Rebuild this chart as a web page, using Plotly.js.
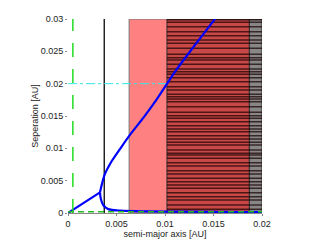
<!DOCTYPE html>
<html>
<head>
<meta charset="utf-8">
<script src="https://cdn.plot.ly/plotly-3.0.1.min.js"></script>
<style>
  html, body { margin: 0; padding: 0; background: #fff; }
  #chart { width: 321px; height: 241px; }
</style>
</head>
<body>
<div id="chart"></div>
<script>
/* data */
// blue curve: straight part from the origin, then two branches out of the kink
const line_x = [0, 0.0033];
const line_y = [0, 0.0032];
const upper_x = [0.0033, 0.0035, 0.0038, 0.0045, 0.0055, 0.0065, 0.0078, 0.0092, 0.0112, 0.0130, 0.0152];
const upper_y = [0.0032, 0.0045, 0.0060, 0.0080, 0.0102, 0.0123, 0.0148, 0.0177, 0.0222, 0.0258, 0.0301];
const lower_x = [0.0033, 0.00337, 0.00364, 0.00416, 0.0054, 0.008, 0.012, 0.02];
const lower_y = [0.0032, 0.0023, 0.0012, 0.0006, 0.00036, 0.00025, 0.0002, 0.00015];

// limits
const black_x = 0.00374;
const green_x = 0.0005;
const green_y = 0.0002;
const cyan_y = 0.02;
const cyan_end = 0.0102;

// shaded bands
const pink_band = [0.0063, 0.0187];
const dark_band = [0.0102, 0.0187];
const grey_band = [0.0187, 0.02];

// horizontal dark stripes over the shaded bands
const stripe_y = [0.0299, 0.02948, 0.02880, 0.02803, 0.02741, 0.02675, 0.02624, 0.02546, 0.02454, 0.02401,
  0.02365, 0.02299, 0.02226, 0.02185, 0.02144, 0.02092, 0.02030, 0.01953, 0.01902, 0.01835,
  0.01798, 0.01763, 0.01721, 0.01643, 0.01557, 0.01504, 0.01464, 0.01412, 0.01350, 0.01299,
  0.01257, 0.01195, 0.01144, 0.01093, 0.01051, 0.00974, 0.00923, 0.00897, 0.00846, 0.00778,
  0.00727, 0.00654, 0.00603, 0.00536, 0.00484, 0.00433, 0.00382, 0.00314, 0.00252, 0.00201,
  0.00124, 0.00057];

const x_ticks = [0, 0.005, 0.01, 0.015, 0.02];
const y_ticks = [0, 0.005, 0.01, 0.015, 0.02, 0.025, 0.03];

/* build */
const stripes_x = [], stripes_y = [];
for (const y of stripe_y) {
  stripes_x.push(dark_band[0], grey_band[1], null);
  stripes_y.push(y, y, null);
}

const band = (x0, x1, fill, edge) => ({
  type: 'rect', xref: 'x', yref: 'y', layer: 'below',
  x0: x0, x1: x1, y0: 0, y1: 0.03,
  fillcolor: fill, line: {color: edge, width: 1},
});

const blue = {color: '#0000ff', width: 2.2, shape: 'spline', smoothing: 0.8};

const traces = [
  {x: stripes_x, y: stripes_y, mode: 'lines', line: {color: 'rgba(25,0,0,0.7)', width: 1.5}},
  {x: [black_x, black_x], y: [0, 0.03], mode: 'lines', line: {color: '#222', width: 1.5}},
  {x: [0, cyan_end], y: [cyan_y, cyan_y], mode: 'lines', line: {color: '#33e6e6', width: 1, dash: 'dashdot'}},
  {x: line_x, y: line_y, mode: 'lines', line: {color: '#0000ff', width: 2.2}},
  {x: upper_x, y: upper_y, mode: 'lines', line: blue},
  {x: lower_x, y: lower_y, mode: 'lines', line: blue},
  {x: [green_x, green_x], y: [0, 0.03], mode: 'lines', line: {color: '#22dd22', width: 1.5, dash: '14px,12px'}},
  {x: [0, 0.02], y: [green_y, green_y], mode: 'lines', line: {color: '#22bb22', width: 1.5, dash: '6px,4px'}},
];

const font = {family: 'Liberation Sans, Arial, sans-serif', size: 9, color: '#222'};

const layout = {
  width: 321, height: 241,
  margin: {l: 68, r: 59, t: 19, b: 28},
  paper_bgcolor: '#fff', plot_bgcolor: '#fff',
  showlegend: false,
  font: font,
  xaxis: {
    range: [0, 0.02], tickvals: x_ticks, ticktext: x_ticks.map(String),
    showgrid: false, zeroline: false, showline: true, linecolor: '#888', linewidth: 1,
    ticks: 'outside', ticklen: 2, tickcolor: '#888',
    title: {text: 'semi-major axis [AU]', font: font, standoff: 2},
  },
  yaxis: {
    range: [0, 0.03], tickvals: y_ticks, ticktext: y_ticks.map(String),
    showgrid: false, zeroline: false, showline: false,
    ticks: 'outside', ticklen: 2, tickcolor: '#888',
    title: {text: 'Seperation [AU]', font: font, standoff: 0},
  },
  shapes: [
    band(pink_band[0], pink_band[1], '#ff8080', '#777'),
    band(dark_band[0], dark_band[1], 'rgb(200,72,72)', '#333'),
    band(grey_band[0], grey_band[1], 'rgb(135,135,135)', '#333'),
  ],
};

Plotly.newPlot('chart', traces, layout, {staticPlot: true, displayModeBar: false});
</script>
</body>
</html>
